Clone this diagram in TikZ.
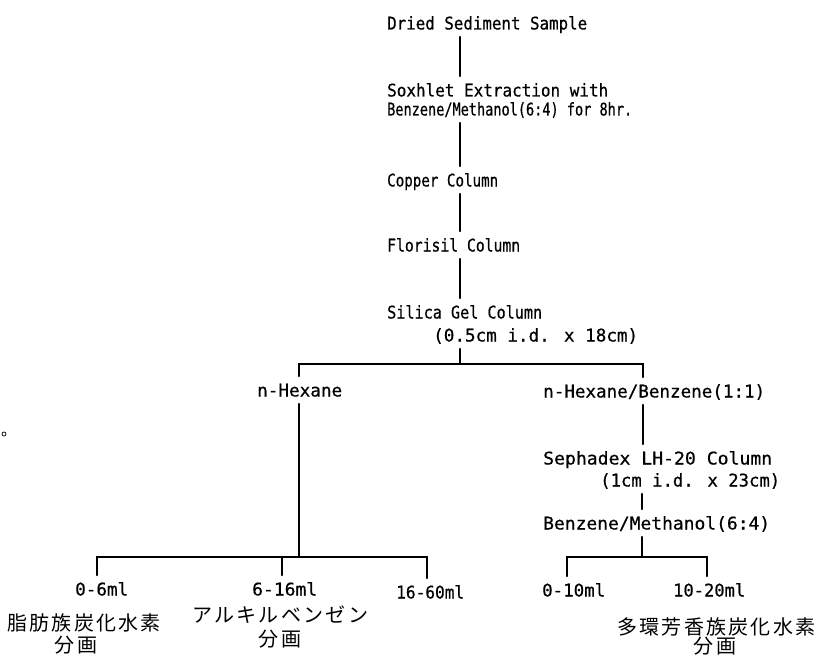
\documentclass[tikz,border=0pt]{standalone}
\usepackage{fontspec}
\usepackage{graphicx}
\newfontfamily\twfont[FakeBold=0.6]{DejaVu Sans Mono}
\newfontfamily\jpfont[LetterSpace=11.5]{Noto Sans CJK JP}
\newcommand\fw[2]{\resizebox{#1pt}{\height}{#2}}
\tikzset{
  lbl/.style={anchor=west, inner xsep=0pt, inner ysep=7pt, text height=13pt, text depth=0pt,
    font=\twfont\fontsize{17.5}{20}\selectfont},
  jpl/.style={inner sep=0pt, text height=15pt, text depth=0pt,
    font=\jpfont\fontsize{20}{22}\selectfont},
  conn/.style={line width=1.6pt, line cap=round, line join=miter}
}
\begin{document}
\begin{tikzpicture}[x=1pt, y=-1pt]
\useasboundingbox[fill=white] (0,0) rectangle (822,658);

% main trunk text
\node[lbl] (dss)  at (387,23)  {\fw{200}{Dried Sediment Sample}};
\node[lbl] (sox1) at (387,90)  {\fw{221}{Soxhlet Extraction with}};
\node[lbl] (sox2) at (387,109) {\fw{245}{Benzene/Methanol(6:4) for 8hr.}};
\node[lbl] (cu)   at (387,180) {\fw{111}{Copper Column}};
\node[lbl] (flo)  at (387,245) {\fw{133}{Florisil Column}};
\node[lbl] (sil1) at (387,312) {\fw{155}{Silica Gel Column}};
\node[lbl] (sil2) at (433,335) {\fw{205}{(0.5cm i.d. x 18cm)}};

% branches
\node[lbl] (hex)  at (257,390) {\fw{85}{n-Hexane}};
\node[lbl] (hb)   at (543,391) {\fw{222}{n-Hexane/Benzene(1:1)}};
\node[lbl] (seph1) at (543,458) {\fw{229}{Sephadex LH-20 Column}};
\node[lbl] (seph2) at (600,480) {\fw{180}{(1cm i.d. x 23cm)}};
\node[lbl] (bm)   at (543,523) {\fw{227}{Benzene/Methanol(6:4)}};

% fractions
\node[lbl] (f06)   at (75,589)  {\fw{53}{0-6ml}};
\node[lbl] (f616)  at (252,589) {\fw{65}{6-16ml}};
\node[lbl] (f1660) at (396,592) {\fw{68}{16-60ml}};
\node[lbl] (f010)  at (542,590) {\fw{63}{0-10ml}};
\node[lbl] (f1020) at (673,590) {\fw{72}{10-20ml}};

% Japanese labels
\node[jpl, anchor=west] (jp1)  at (7,623)   {脂肪族炭化水素};
\node[jpl] (jp1b) at (76,645)  {分画};
\node[jpl, anchor=west] (jp2)  at (192,615) {アルキルベンゼン};
\node[jpl] (jp2b) at (280,639) {分画};
\node[jpl, anchor=west] (jp3)  at (617,627) {多環芳香族炭化水素};
\node[jpl] (jp3b) at (715,646) {分画};

% coordinates
\coordinate (tr) at (460,0);
\coordinate (split) at (460,364);
\coordinate (hbx) at (643,364);
\coordinate (L1) at (97,557);
\coordinate (L2) at (282,557);
\coordinate (L3) at (427,557);
\coordinate (R0) at (642,557);
\coordinate (R1) at (567,557);
\coordinate (R2) at (707,557);

% trunk connectors
\draw[conn] (dss.south -| tr) -- (sox1.north -| tr);
\draw[conn] (sox2.south -| tr) -- (cu.north -| tr);
\draw[conn] (cu.south -| tr) -- (flo.north -| tr);
\draw[conn] (flo.south -| tr) -- (sil1.north -| tr);
\draw[conn] (sil2.south -| tr) -- (split);
\draw[conn] (hex.north -| 299,0) |- (split) -- (hbx) -- (hb.north -| hbx);

% left branch
\draw[conn] (hex.south -| 299,0) -- (299,557);
\draw[conn] (f06.north -| L1) -- (L1) -- (L3) -- (f1660.north -| L3);
\draw[conn] (L2) -- (f616.north -| L2);

% right branch
\draw[conn] (hb.south -| hbx) -- (seph1.north -| hbx);
\draw[conn] (seph2.south -| R0) -- (bm.north -| R0);
\draw[conn] (bm.south -| R0) -- (R0);
\draw[conn] (f010.north -| R1) -- (R1) -- (R2) -- (f1020.north -| R2);

% stray mark
\draw[line width=0.7pt] (4,434) circle (2);
\end{tikzpicture}
\end{document}
